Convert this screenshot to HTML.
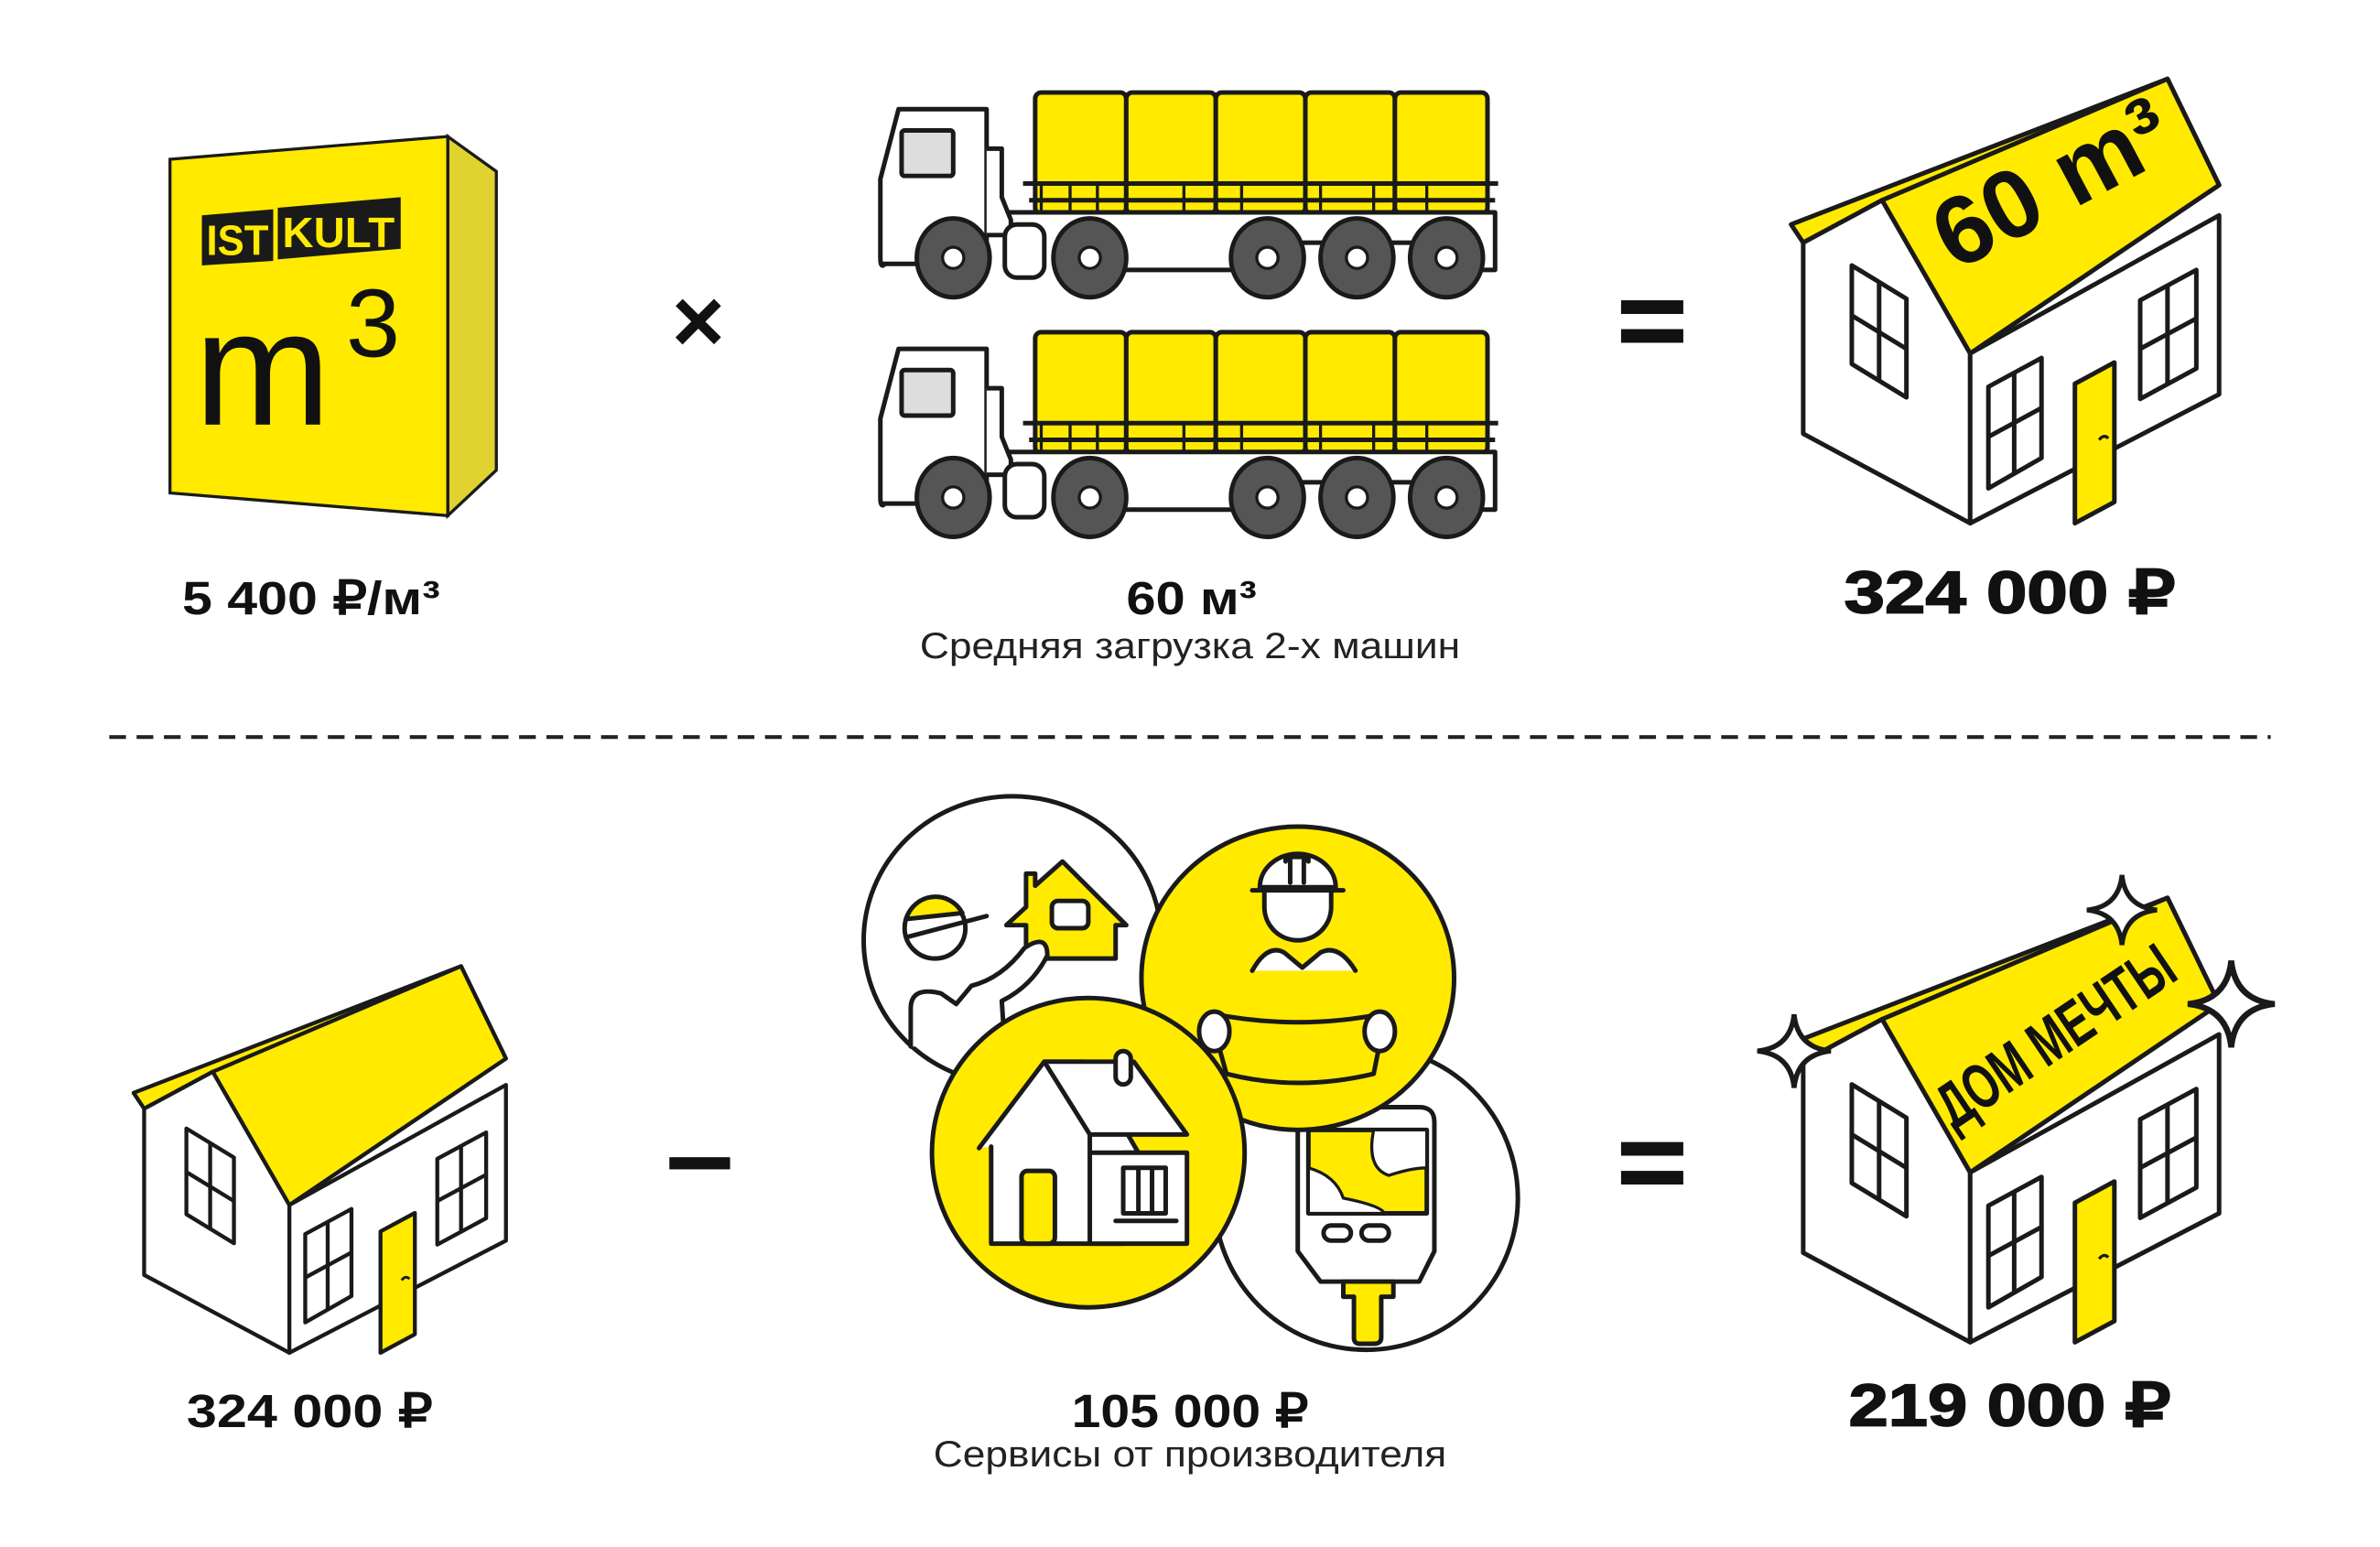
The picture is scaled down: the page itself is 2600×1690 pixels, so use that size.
<!DOCTYPE html>
<html><head><meta charset="utf-8"><style>
html,body{margin:0;padding:0;background:#fff;}
svg{display:block;}
text{font-family:"Liberation Sans",sans-serif;}
</style></head><body>
<svg width="2600" height="1690" viewBox="0 0 1568 1020" preserveAspectRatio="none" xmlns="http://www.w3.org/2000/svg">
<defs>
<g id="house" stroke="#1a1a1a" stroke-width="3" stroke-linejoin="round">
  <polygon points="1180,688 1428,592 1462,662 1298,773 1240,672 1188,700" fill="#ffea00"/>
  <polygon points="1188,700 1240,672 1298,773 1298,885 1188,826" fill="#fff"/>
  <polygon points="1298,773 1462,682 1462,800 1298,885" fill="#fff"/>
  <polygon points="1240,672 1428,592 1462,662 1298,773" fill="#ffea00"/>
  <g fill="none">
    <polygon points="1220,715 1256,737 1256,802 1220,780"/>
    <line x1="1238" y1="726" x2="1238" y2="791"/><line x1="1220" y1="748" x2="1256" y2="770"/>
    <polygon points="1310,795 1345,776 1345,842 1310,862"/>
    <line x1="1327" y1="786" x2="1327" y2="852"/><line x1="1310" y1="828" x2="1345" y2="809"/>
    <polygon points="1410,738 1447,718 1447,783 1410,803"/>
    <line x1="1428" y1="728" x2="1428" y2="793"/><line x1="1410" y1="770" x2="1447" y2="750"/>
  </g>
  <polygon points="1367,793 1393,779 1393,871 1367,885" fill="#ffea00"/>
  <path d="M1383,830 q3,-4 6,-1" fill="none" stroke-width="2"/>
</g>
<path id="spark" d="M0,-22 Q2,-2 22,0 Q2,2 0,22 Q-2,2 -22,0 Q-2,-2 0,-22 Z" fill="#fff" stroke="#1a1a1a" stroke-width="3"/>
<g id="truck" stroke="#1a1a1a" stroke-width="3" stroke-linejoin="round">
  <g fill="#ffea00">
    <rect x="682" y="61" width="60" height="80" rx="4"/><rect x="742" y="61" width="59" height="80" rx="4"/>
    <rect x="801" y="61" width="59" height="80" rx="4"/><rect x="860" y="61" width="59" height="80" rx="4"/>
    <rect x="919" y="61" width="61" height="80" rx="4"/>
  </g>
  <line x1="674" y1="121" x2="987" y2="121"/><line x1="678" y1="132" x2="985" y2="132"/>
  <path d="M686,141 V120 M705,141 V120 M723,141 V120 M780,141 V120 M818,141 V120 M870,141 V120 M905,141 V120 M940,141 V120" fill="none" stroke-width="2"/>
  <path d="M655,140 H985 V178 H955 V160 H832 V178 H740 V178" fill="#fff"/>
  <path d="M592,72 H650 V174 H582 V175 Q580,176 580,170 V118 Z" fill="#fff"/>
  <path d="M650,98 H660 V130 L666,145 V155 H650" fill="#fff"/>
  <rect x="594" y="86" width="34" height="30" rx="2" fill="#ddd"/>
  <rect x="662" y="148" width="26" height="35" rx="8" fill="#fff"/>
  <g fill="#555"><ellipse cx="628" cy="170" rx="24" ry="26"/><ellipse cx="718" cy="170" rx="24" ry="26"/><ellipse cx="835" cy="170" rx="24" ry="26"/><ellipse cx="894" cy="170" rx="24" ry="26"/><ellipse cx="953" cy="170" rx="24" ry="26"/></g>
  <g fill="#fff" stroke-width="2"><circle cx="628" cy="170" r="7"/><circle cx="718" cy="170" r="7"/><circle cx="835" cy="170" r="7"/><circle cx="894" cy="170" r="7"/><circle cx="953" cy="170" r="7"/></g>
</g>
</defs>

<!-- box -->
<polygon points="295,90 327,113 327,310 295,340" fill="#e0d22f" stroke="#1a1a1a" stroke-width="2"/>
<polygon points="112,105 295,90 295,340 112,325" fill="#ffea00" stroke="#1a1a1a" stroke-width="2"/>
<polygon points="133,142 180,138 180,172 133,175" fill="#1a1a1a"/>
<polygon points="183,137 264,130 264,164 183,171" fill="#1a1a1a"/>
<text x="136" y="168" font-size="28" font-weight="bold" fill="#ffea00" textLength="41" lengthAdjust="spacingAndGlyphs">IST</text>
<text x="186" y="163" font-size="28" font-weight="bold" fill="#ffea00" textLength="74" lengthAdjust="spacingAndGlyphs">KULT</text>
<text x="128" y="280" font-size="108" fill="#111">m</text>
<text x="228" y="235" font-size="64" fill="#111">3</text>

<text x="460" y="232" font-size="60" font-weight="bold" text-anchor="middle" fill="#111">×</text>

<use href="#truck"/>
<use href="#truck" transform="translate(0,158)"/>

<g fill="#111"><rect x="1068" y="198" width="41" height="9"/><rect x="1068" y="217" width="41" height="9"/>
<rect x="1068" y="753" width="41" height="9"/><rect x="1068" y="772" width="41" height="9"/>
<rect x="441" y="763" width="40" height="8"/></g>

<use href="#house" transform="translate(0,-540)"/>
<text transform="translate(1362,140) rotate(-28)" font-size="64" font-weight="bold" text-anchor="middle" fill="#111">60 m³</text>

<text x="120" y="405" font-size="31" font-weight="bold" fill="#111" textLength="170" lengthAdjust="spacingAndGlyphs">5 400 ₽/м³</text>
<text x="742" y="405" font-size="31" font-weight="bold" fill="#111" textLength="86" lengthAdjust="spacingAndGlyphs">60 м³</text>
<text x="606" y="434" font-size="24" fill="#222" textLength="356" lengthAdjust="spacingAndGlyphs">Средняя загрузка 2-х машин</text>
<text x="1215" y="404" font-size="39" font-weight="900" fill="#111" stroke="#111" stroke-width="1" textLength="218" lengthAdjust="spacingAndGlyphs">324 000 ₽</text>

<line x1="72" y1="486" x2="1496" y2="486" stroke="#222" stroke-width="2.5" stroke-dasharray="11,7"/>

<use href="#house" transform="translate(-938.6,122) scale(0.87)"/>

<!-- circles -->
<g stroke="#1a1a1a" stroke-width="3" stroke-linejoin="round" stroke-linecap="round">
  <ellipse cx="667" cy="620" rx="98" ry="95" fill="#fff"/>
  <path d="M676,598 V576 H682 V584 L700,568 L742,610 H735 V632 H676 V610 H663 Z" fill="#ffea00"/>
  <rect x="693" y="594" width="24" height="18" rx="4" fill="#fff"/>
  <circle cx="616" cy="612" r="20" fill="#fff"/>
  <path d="M597,606 A20,20 0 0 1 634,602 Z" fill="#ffea00"/>
  <line x1="597" y1="618" x2="650" y2="604"/>
  <path d="M600,690 V665 Q600,650 620,655 L630,662 L640,650 Q660,645 675,625 Q690,615 690,630 Q680,650 660,660 L662,690" fill="#fff"/>
  <ellipse cx="900" cy="790" rx="100" ry="100" fill="#fff"/>
  <path d="M855,740 V825 L870,845 H935 L945,825 V740 Q945,730 935,730 H868" fill="#fff"/>
  <path d="M862,745 H940 V800 H862 Z" fill="#ffea00"/>
  <path d="M905,745 Q900,770 915,775 Q930,770 940,770 V745 Z M862,770 Q880,775 885,790 Q910,795 912,800 H862 Z" fill="#fff" stroke-width="2"/>
  <rect x="872" y="808" width="18" height="10" rx="5" fill="#fff"/><rect x="897" y="808" width="18" height="10" rx="5" fill="#fff"/>
  <path d="M885,845 H918 V855 H910 V882 Q910,886 905,886 H896 Q892,886 892,882 V855 H885 Z" fill="#ffea00"/>
  <ellipse cx="855" cy="645" rx="103" ry="100" fill="#ffea00"/>
  <path d="M833,598 A22,22 0 0 0 877,598 V585 A22,22 0 0 0 833,585 Z" fill="#fff"/>
  <path d="M830,585 A25,22 0 0 1 880,585 Z" fill="#fff"/>
  <line x1="825" y1="587" x2="885" y2="587"/><path d="M847,568 V565 H862 V568 M850,565 V582 M859,565 V582" fill="none"/>
  <path d="M825,640 Q835,622 846,628 L858,638 L870,628 Q882,622 893,640" fill="#fff"/>
  <path d="M797,668 Q855,680 913,668 L905,708 Q855,720 808,708 Z" fill="#ffea00"/>
  <ellipse cx="800" cy="680" rx="10" ry="13" fill="#fff"/><ellipse cx="909" cy="680" rx="10" ry="13" fill="#fff"/>
  <ellipse cx="717" cy="760" rx="103" ry="102" fill="#ffea00"/>
  <path d="M645,757 L688,700 H715 L750,760 H740 V820 H653 V756" fill="#fff"/>
  <path d="M688,700 L718,748 H782 L747,700 Z" fill="#fff"/>
  <rect x="735" y="693" width="10" height="22" rx="5" fill="#fff"/>
  <path d="M718,748 V820 H740 M718,820 H782 V760 H720" fill="#fff"/>
  <rect x="673" y="772" width="22" height="48" rx="4" fill="#ffea00"/>
  <rect x="740" y="770" width="28" height="30" fill="#fff"/>
  <path d="M750,770 V800 M759,770 V800 M735,805 H775" fill="none"/>
</g>

<use href="#house"/>
<text transform="translate(1362,695) rotate(-34)" font-size="42" font-weight="bold" text-anchor="middle" fill="#111" textLength="180" lengthAdjust="spacingAndGlyphs">ДОМ МЕЧТЫ</text>
<use href="#spark" transform="translate(1182,693) scale(1.1)"/>
<use href="#spark" transform="translate(1398,600) scale(1.05)"/>
<use href="#spark" transform="translate(1470,662) scale(1.3)"/>

<text x="123" y="941" font-size="31" font-weight="bold" fill="#111" textLength="162" lengthAdjust="spacingAndGlyphs">324 000 ₽</text>
<text x="706" y="941" font-size="31" font-weight="bold" fill="#111" textLength="156" lengthAdjust="spacingAndGlyphs">105 000 ₽</text>
<text x="615" y="967" font-size="24" fill="#222" textLength="338" lengthAdjust="spacingAndGlyphs">Сервисы от производителя</text>
<text x="1218" y="940" font-size="39" font-weight="900" fill="#111" stroke="#111" stroke-width="1" textLength="212" lengthAdjust="spacingAndGlyphs">219 000 ₽</text>
</svg>
</body></html>
